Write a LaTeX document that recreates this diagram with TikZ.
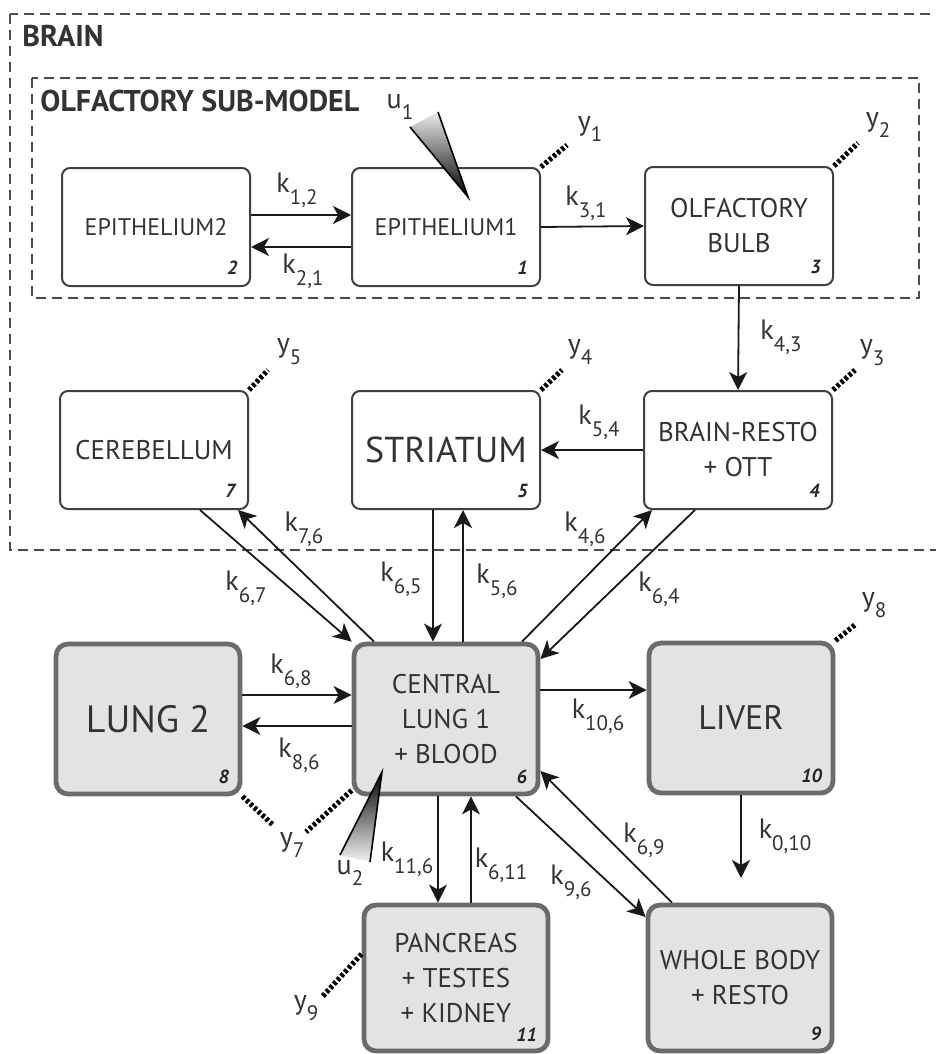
\documentclass[tikz,border=0pt]{standalone}
\usepackage{fontspec}
\setmainfont{PT Sans}
\usetikzlibrary{arrows.meta,calc}

\newcommand{\ksub}[1]{\raisebox{-0.42em}{\fontsize{10.5}{10.5}\selectfont #1}}
\newcommand{\sizeA}{\fontsize{12}{13}\selectfont}
\newcommand{\sizeB}{\fontsize{13.5}{17.5}\selectfont}
\newcommand{\sizeC}{\fontsize{18}{19}\selectfont}
\newcommand{\sizeD}{\fontsize{19}{20}\selectfont}
\newcommand{\sizeE}{\fontsize{17}{18}\selectfont}

\begin{document}
\begin{tikzpicture}[x=0.5pt,y=-0.5pt,
  comp/.style={draw=black!75,line width=1pt,rounded corners=4pt,fill=white,
    minimum width=94pt,minimum height=59pt,align=center,text=black!80,inner sep=2pt},
  organ/.style={comp,fill=black!11,draw=black!58,line width=2.4pt,rounded corners=6pt,
    minimum width=92pt,minimum height=73pt},
  num/.style={font=\fontsize{9.5}{9.5}\selectfont\bfseries\itshape,text=black!85,
    inner sep=0pt,anchor=south east},
  rate/.style={font=\fontsize{14}{14}\selectfont,text=black!80,inner sep=0pt},
  title/.style={font=\fontsize{15}{15}\selectfont\bfseries,text=black!80,anchor=west,inner sep=0pt},
  flow/.style={-{Stealth[length=9pt,width=9pt,inset=2.5pt]},line width=0.9pt,draw=black!90},
  ymark/.style={line width=2.6pt,dash pattern=on 1.6pt off 1.1pt,draw=black},
  region/.style={line width=0.9pt,dash pattern=on 5pt off 3pt,draw=black!70},
  wedge/.style={line width=0.8pt,draw=black}]

  \path[use as bounding box,clip] (0,0) rectangle (936,1054);

  % brain and olfactory regions
  \draw[region] (10,14) rectangle (950,550);
  \draw[region] (32,78) rectangle (919,298);
  \path (22,36) node[title] (TB) {BRAIN};
  \path (40,101) node[title] (TO) {OLFACTORY SUB-MODEL};

  % compartments
  \path (156,227) node[comp,font=\sizeA] (C2) {EPITHELIUM2};
  \path (446,227) node[comp,font=\sizeA] (C1) {EPITHELIUM1};
  \path (739,226) node[comp,font=\sizeB] (C3) {OLFACTORY\\BULB};
  \path (154,450) node[comp,font=\sizeB] (C7) {CEREBELLUM};
  \path (446,450) node[comp,font=\sizeC] (C5) {STRIATUM};
  \path (738,450) node[comp,font=\sizeB] (C4) {BRAIN-RESTO\\+ OTT};
  \path (148,719) node[organ,minimum height=75pt,font=\sizeD] (C8) {LUNG 2};
  \path (446,719) node[organ,minimum height=75pt,font=\sizeB] (C6) {CENTRAL\\LUNG 1\\+ BLOOD};
  \path (741,718) node[organ,minimum height=75pt,font=\sizeE] (C10) {LIVER};
  \path (456,978) node[organ,font=\sizeB] (C11) {PANCREAS\\+ TESTES\\+ KIDNEY};
  \path (740,978) node[organ,font=\sizeB] (C9) {WHOLE BODY\\+ RESTO};

  \path ($(C1.south east)+(-13,-12)$) node[num] (C1n) {1};
  \path ($(C2.south east)+(-13,-12)$) node[num] (C2n) {2};
  \path ($(C3.south east)+(-13,-12)$) node[num] (C3n) {3};
  \path ($(C4.south east)+(-13,-12)$) node[num] (C4n) {4};
  \path ($(C5.south east)+(-13,-12)$) node[num] (C5n) {5};
  \path ($(C6.south east)+(-13,-12)$) node[num] (C6n) {6};
  \path ($(C7.south east)+(-13,-12)$) node[num] (C7n) {7};
  \path ($(C8.south east)+(-13,-12)$) node[num] (C8n) {8};
  \path ($(C9.south east)+(-13,-12)$) node[num] (C9n) {9};
  \path ($(C10.south east)+(-13,-12)$) node[num] (C10n) {10};
  \path ($(C11.south east)+(-13,-12)$) node[num] (C11n) {11};

  % exchanges
  \draw[flow] ($(C2.east)+(0,-12)$) -- ($(C1.west)+(0,-12)$);
  \draw[flow] ($(C1.west)+(0,20)$) -- ($(C2.east)+(0,20)$);
  \draw[flow] (C1.east) -- (C3.west);
  \draw[flow] (C3.south) -- (C4.north);
  \draw[flow] (C4.west) -- (C5.east);
  \draw[flow] ($(C5.south)+(-13,0)$) -- ($(C6.north)+(-13,0)$);
  \draw[flow] ($(C6.north)+(17,0)$) -- ($(C5.south)+(17,0)$);
  \draw[flow] ($(C7.south)+(46,0)$) -- (C6.north west);
  \draw[flow] ($(C6.north)+(-72,0)$) -- ($(C7.south)+(84,0)$);
  \draw[flow] ($(C6.north)+(76,0)$) -- ($(C4.south)+(-86,0)$);
  \draw[flow] ($(C4.south)+(-43,0)$) -- ($(C6.east)+(0,-60)$);
  \draw[flow] ($(C8.east)+(0,-24)$) -- ($(C6.west)+(0,-24)$);
  \draw[flow] ($(C6.west)+(0,7)$) -- ($(C8.east)+(0,7)$);
  \draw[flow] ($(C6.east)+(0,-29)$) -- ($(C10.west)+(0,-28)$);
  \coordinate (E10) at (741,878);
  \draw[flow] (C10.south) -- (E10);
  \draw[flow] ($(C6.south)+(-8,0)$) -- ($(C11.north)+(-18,0)$);
  \draw[flow] ($(C11.north)+(15,0)$) -- ($(C6.south)+(25,0)$);
  \draw[flow] ($(C6.south)+(70,0)$) -- ($(C9.west)+(0,-61)$);
  \draw[flow] ($(C9.north)+(-68,0)$) -- ($(C6.east)+(0,52)$);

  \path (297,190) node[rate] (K12) {k\ksub{1,2}};
  \path (303,271) node[rate] (K21) {k\ksub{2,1}};
  \path (586,203) node[rate] (K31) {k\ksub{3,1}};
  \path (781,337) node[rate] (K43) {k\ksub{4,3}};
  \path (599,422) node[rate] (K54) {k\ksub{5,4}};
  \path (401,579) node[rate] (K65) {k\ksub{6,5}};
  \path (497,581) node[rate] (K56) {k\ksub{5,6}};
  \path (304,529) node[rate] (K76) {k\ksub{7,6}};
  \path (246,588) node[rate] (K67) {k\ksub{6,7}};
  \path (585,529) node[rate] (K46) {k\ksub{4,6}};
  \path (659,589) node[rate] (K64) {k\ksub{6,4}};
  \path (291,671) node[rate] (K68) {k\ksub{6,8}};
  \path (299,755) node[rate] (K86) {k\ksub{8,6}};
  \path (598,716) node[rate] (K106) {k\ksub{10,6}};
  \path (785,836) node[rate] (K010) {k\ksub{0,10}};
  \path (407,859) node[rate] (K116) {k\ksub{11,6}};
  \path (501,865) node[rate] (K611) {k\ksub{6,11}};
  \path (571,882) node[rate] (K96) {k\ksub{9,6}};
  \path (644,840) node[rate] (K69) {k\ksub{6,9}};

  % outputs
  \coordinate (Y1e) at (567,145);
  \coordinate (Y2e) at (858,143);
  \coordinate (Y3e) at (855,370);
  \coordinate (Y4e) at (562,370);
  \coordinate (Y5e) at (268,370);
  \coordinate (Y7a) at (273,825);
  \coordinate (Y7b) at (306,832);
  \coordinate (Y8e) at (856,624);
  \coordinate (Y9e) at (322,997);
  \draw[ymark] (C1.north east) -- (Y1e);
  \draw[ymark] (C3.north east) -- (Y2e);
  \draw[ymark] (C4.north east) -- (Y3e);
  \draw[ymark] (C5.north east) -- (Y4e);
  \draw[ymark] (C7.north east) -- (Y5e);
  \draw[ymark] (C8.south east) -- (Y7a);
  \draw[ymark] ($(C6.south west)+(0,-6)$) -- (Y7b);
  \draw[ymark] (C10.north east) -- (Y8e);
  \draw[ymark] ($(C11.west)+(0,-24)$) -- (Y9e);

  \path (590,129) node[rate] (Y1) {y\ksub{1}};
  \path (878,125) node[rate] (Y2) {y\ksub{2}};
  \path (872,353) node[rate] (Y3) {y\ksub{3}};
  \path (580,352) node[rate] (Y4) {y\ksub{4}};
  \path (289,352) node[rate] (Y5) {y\ksub{5}};
  \path (292,845) node[rate] (Y7) {y\ksub{7}};
  \path (874,605) node[rate] (Y8) {y\ksub{8}};
  \path (306,1008) node[rate] (Y9) {y\ksub{9}};

  % inputs
  \coordinate (U1a) at (410,127);
  \coordinate (U1b) at (438,112);
  \coordinate (U1t) at ($(C1.center)+(22,-30)$);
  \shade[top color=black!8,bottom color=black] (U1a) -- (U1t) -- (U1b) -- cycle;
  \draw[wedge] (U1a) -- (U1t) -- (U1b);
  \path (400,107) node[rate] (U1) {u\ksub{1}};

  \coordinate (U2a) at (340,855);
  \coordinate (U2b) at (370,862);
  \coordinate (U2t) at ($(C6.center)+(-64,53)$);
  \shade[top color=black,bottom color=black!5] (U2a) -- (U2t) -- (U2b) -- cycle;
  \draw[wedge] (U2a) -- (U2t) -- (U2b);
  \path (350,873) node[rate] (U2) {u\ksub{2}};
\end{tikzpicture}
\end{document}
